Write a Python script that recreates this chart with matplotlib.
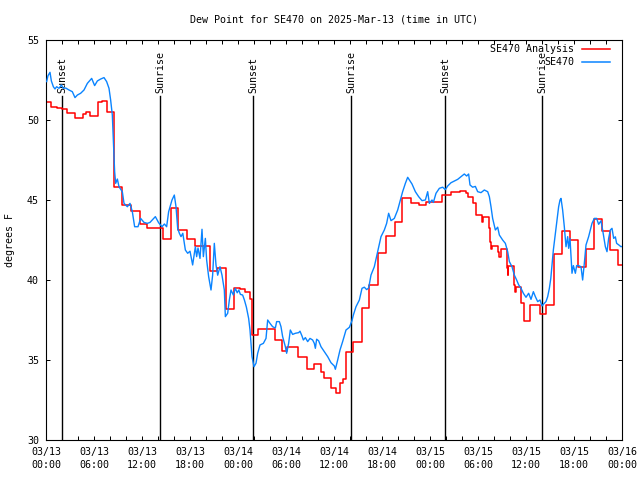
#!/usr/bin/env python3
# Dew point at SE470, analysis vs. observed, 3 days from 2025-03-13 UTC
import matplotlib
matplotlib.use("Agg")
import matplotlib.pyplot as plt
from matplotlib.ticker import MultipleLocator

plt.rcParams['font.family'] = ['DejaVu Sans Mono']
plt.rcParams['font.size'] = 7.2

# hours since 03/13 00:00 UTC where the analysis value changes, and value after it
analysis_hours = [0, 0.67, 1.42, 2.04, 2.58, 3.63, 4.63, 4.96, 5.5, 6.54, 7.04, 7.67,
                  8.5, 9.54, 10.67, 11.71, 12.67, 14.58, 15.63, 16.46, 17.58, 18.63,
                  20.5, 21.33, 22.5, 23.54, 24.25, 24.9, 25.5, 25.7, 26.55, 28.65,
                  29.5, 30.1, 31.5, 32.6, 33.55, 34.4, 34.7, 35.65, 36.2, 36.7, 37.1,
                  37.5, 38.4, 39.5, 40.4, 41.5, 42.5, 43.6, 44.5, 45.6, 46.6, 47.5,
                  49.5, 50.6, 51.7, 52.5, 52.7, 53.4, 53.7, 54.45, 54.6, 55.4, 55.5,
                  55.6, 55.8, 56.5, 56.6, 56.9, 57.6, 57.7, 57.8, 58.5, 58.6, 58.8,
                  59.4, 59.7, 60.5, 61.7, 62.5, 63.5, 64.5, 65.5, 66.5, 67.5, 68.5,
                  69.5, 70.5, 71.5, 72.0]
analysis_vals = [51.15, 50.83, 50.73, 50.69, 50.42, 50.10, 50.35, 50.48, 50.25, 51.15, 51.21, 50.52,
                 45.79, 44.69, 44.31, 43.48, 43.23, 42.54, 44.48, 43.13, 42.54, 42.13,
                 40.58, 40.73, 38.2, 39.5, 39.42, 39.27, 38.79, 36.56, 36.92, 36.25,
                 35.55, 35.83, 35.2, 34.42, 34.77, 34.27, 33.85, 33.28, 32.94, 33.55, 33.8,
                 35.5, 36.15, 38.23, 39.69, 41.67, 42.75, 43.65, 45.10, 44.79, 44.69, 44.9,
                 45.31, 45.5, 45.56, 45.42, 45.17, 44.83, 44.06, 43.65, 43.96, 43.23, 42.40,
                 41.92, 42.13, 41.77, 41.46, 41.92, 40.73, 40.31, 40.88, 39.69, 39.27, 39.58,
                 38.54, 37.44, 38.44, 37.875, 38.44, 41.62, 43.08, 42.5, 40.79, 41.92, 43.8,
                 43.06, 41.9, 40.94, 40.94]

# observed station dew point
obs_hours = [0.08, 0.25, 0.5, 0.67, 0.92, 1.125, 1.33, 1.625, 1.92, 2.17, 2.46, 2.875,
             3.29, 3.625, 3.92, 4.33, 4.75, 5.17, 5.71, 6.08, 6.42, 6.83, 7.25, 7.58,
             7.875, 8.08, 8.29, 8.42, 8.58, 8.71, 8.92, 9.125, 9.54, 9.75, 10.17, 10.5,
             10.79, 11.08, 11.5, 11.83, 12.25, 12.67, 13.0, 13.67, 14.08, 14.5, 14.8,
             15.08, 15.33, 15.75, 16.04, 16.25, 16.46, 16.67, 16.875, 17.1, 17.42, 17.71,
             18.0, 18.33, 18.67, 18.83, 19.0, 19.25, 19.5, 19.67, 19.92, 20.08, 20.33,
             20.625, 20.83, 21.04, 21.25, 21.46, 21.75, 22.0, 22.29, 22.42, 22.71, 22.92,
             23.125, 23.42, 23.67, 23.9, 24.1, 24.3, 24.58, 24.8, 25.05, 25.33, 25.5,
             25.75, 26.0, 26.25, 26.46, 26.75, 27.17, 27.5, 27.71, 28.0, 28.33, 28.67,
             28.83, 29.17, 29.375, 29.58, 29.92, 30.08, 30.33, 30.54, 30.83, 31.17, 31.58,
             31.75, 32.0, 32.17, 32.42, 32.71, 33.0, 33.33, 33.54, 33.67, 33.83, 34.08,
             34.375, 34.79, 35.21, 35.625, 36.04, 36.17, 36.46, 36.75, 37.08, 37.5, 37.92,
             38.25, 38.42, 38.75, 39.17, 39.5, 39.79, 40.08, 40.33, 40.625, 41.04, 41.46,
             41.875, 42.29, 42.58, 42.83, 43.125, 43.54, 43.96, 44.25, 44.58, 44.92, 45.21,
             45.5, 45.75, 46.17, 46.58, 47.0, 47.42, 47.71, 47.92, 48.25, 48.42, 48.75,
             49.17, 49.58, 49.92, 50.21, 50.625, 51.46, 51.875, 52.29, 52.58, 52.83, 53.0,
             53.33, 53.67, 53.96, 54.375, 54.79, 55.21, 55.42, 55.625, 55.83, 56.17, 56.46,
             56.67, 57.08, 57.42, 57.71, 57.92, 58.25, 58.54, 58.83, 59.08, 59.375, 59.67,
             60.0, 60.33, 60.625, 60.92, 61.17, 61.46, 61.75, 62.0, 62.21, 62.5, 62.71,
             62.92, 63.1, 63.25, 63.42, 63.67, 63.875, 64.08, 64.25, 64.375, 64.58, 64.79,
             65.0, 65.21, 65.33, 65.5, 65.75, 65.92, 66.17, 66.33, 66.58, 66.875, 67.08,
             67.29, 67.5, 67.83, 68.04, 68.25, 68.54, 68.83, 69.08, 69.375, 69.58, 69.92,
             70.125, 70.33, 70.54, 70.75, 70.96, 71.17, 71.33, 71.58, 71.875, 72.0]
obs_vals = [52.40, 52.77, 52.98, 52.44, 52.08, 51.94, 52.08, 51.98, 52.19, 51.98, 52.0, 51.875,
            51.77, 51.40, 51.56, 51.67, 51.875, 52.29, 52.60, 52.15, 52.44, 52.56, 52.65, 52.40,
            51.98, 51.25, 50.31, 48.65, 46.77, 46.04, 46.31, 45.83, 45.52, 44.79, 44.58, 44.79,
            44.27, 43.33, 43.33, 43.85, 43.60, 43.54, 43.6, 43.96, 43.58, 43.33, 43.5,
            43.33, 44.27, 45.0, 45.31, 44.58, 43.23, 42.92, 42.71, 42.92, 41.875, 41.67,
            41.8, 40.94, 42.08, 41.46, 42.0, 41.35, 43.17, 41.46, 42.6, 41.25, 40.21,
            39.375, 40.31, 42.29, 40.94, 40.3, 40.83, 40.3, 39.375, 37.71, 37.92, 38.75,
            39.375, 39.06, 39.48, 39.2, 39.375, 39.1, 39.06, 38.75, 38.3, 37.6, 36.875,
            35.21, 34.58, 34.8, 35.42, 35.94, 36.04, 36.35, 37.5, 37.29, 37.08, 37.0,
            37.40, 37.4, 37.08, 36.46, 35.83, 35.42, 36.04, 36.875, 36.6, 36.67, 36.71,
            36.8, 36.5, 36.25, 36.4, 36.15, 36.35, 36.25, 36.04, 35.73, 36.3, 36.2,
            35.83, 35.52, 35.21, 34.83, 34.625, 34.42, 35.0, 35.625, 36.15, 36.875, 37.04,
            37.46, 37.81, 38.33, 38.75, 39.48, 39.55, 39.4, 39.5, 40.31, 40.83, 41.77,
            42.71, 43.125, 43.54, 44.17, 43.71, 43.85, 44.375, 44.90, 45.52, 46.04, 46.42,
            46.2, 46.0, 45.52, 45.21, 44.96, 45.0, 45.52, 44.79, 45.0, 44.85, 45.42,
            45.73, 45.8, 45.65, 45.875, 46.08, 46.29, 46.46, 46.625, 46.5, 46.625, 45.94,
            45.8, 45.85, 45.52, 45.46, 45.625, 45.52, 45.21, 44.58, 43.85, 43.125, 43.3,
            42.81, 42.5, 42.29, 41.77, 41.15, 40.83, 40.31, 40.0, 39.7, 39.48, 39.17,
            38.92, 39.17, 38.79, 39.27, 38.96, 38.65, 38.75, 38.375, 38.5, 38.65, 38.96,
            39.48, 40.1, 40.94, 41.875, 42.92, 43.75, 44.58, 45.0, 45.1, 44.375, 43.33,
            42.08, 42.71, 41.98, 42.6, 40.42, 40.9, 40.42, 40.9, 40.9, 40.83, 40.0,
            41.04, 42.19, 42.71, 43.125, 43.54, 43.85, 43.85, 43.48, 43.7, 43.125, 42.08,
            41.77, 42.6, 43.125, 43.23, 42.6, 42.7, 42.29, 42.2, 42.08, 42.1]

# sun events (hours since start)
sun_hours = [2.0, 14.25, 25.875, 38.125, 49.875, 62.0]
sun_names = ['Sunset', 'Sunrise', 'Sunset', 'Sunrise', 'Sunset', 'Sunrise']

tick_hours = [0, 6, 12, 18, 24, 30, 36, 42, 48, 54, 60, 66, 72]
tick_labels = ['03/13\n00:00', '03/13\n06:00', '03/13\n12:00', '03/13\n18:00',
               '03/14\n00:00', '03/14\n06:00', '03/14\n12:00', '03/14\n18:00',
               '03/15\n00:00', '03/15\n06:00', '03/15\n12:00', '03/15\n18:00',
               '03/16\n00:00']

red = '#ff0000'
blue = '#0a84ff'

fig = plt.figure(figsize=(6.4, 4.8), dpi=100)
ax = fig.add_axes([46/640, 40/480, 576/640, 400/480])

# sunrise / sunset markers
for h, name in zip(sun_hours, sun_names):
    ax.plot([h, h], [0, 0.86], color='k', lw=1.0,
            transform=ax.get_xaxis_transform(), zorder=1)
    ax.text(h, 0.8675, name, rotation=90, ha='center', va='bottom',
            transform=ax.get_xaxis_transform(), zorder=1)

ax.plot(analysis_hours, analysis_vals, color=red, lw=1.1, drawstyle='steps-post', zorder=2)
ax.plot(obs_hours, obs_vals, color=blue, lw=1.0, zorder=3)

ax.set_xlim(0, 72)
ax.set_ylim(30, 55)
ax.set_xticks(tick_hours)
ax.set_xticklabels(tick_labels, linespacing=1.35)
ax.xaxis.set_minor_locator(MultipleLocator(2))
ax.yaxis.set_major_locator(MultipleLocator(5))
ax.tick_params(which='both', direction='in', top=True, right=True,
               length=3, width=0.72)
ax.tick_params(axis='x', pad=5)
ax.tick_params(axis='y', pad=5)
for s in ax.spines.values():
    s.set_linewidth(0.8)

# gnuplot style key: text right aligned, sample line after it
key_rows = [('SE470 Analysis', red), ('SE470', blue)]
for i, (lab, col) in enumerate(key_rows):
    yk = 1 - (9.5 + 13 * i) / 400
    ax.text(1 - 48/576, yk, lab, ha='right', va='center', transform=ax.transAxes)
    ax.plot([1 - 40/576, 1 - 12/576], [yk, yk], color=col, lw=1.1,
            transform=ax.transAxes, clip_on=False)

fig.text(334/640, 1 - 20/480, 'Dew Point for SE470 on 2025-Mar-13 (time in UTC)',
         ha='center', va='center')
fig.text(10/640, 0.5, 'degrees F', rotation=90, ha='center', va='center')

fig.savefig('out.png', dpi=100)
